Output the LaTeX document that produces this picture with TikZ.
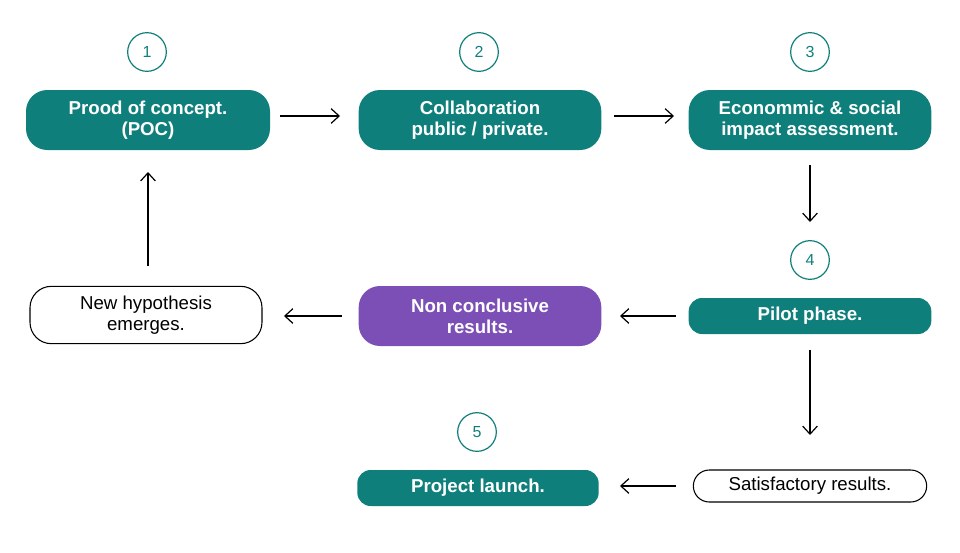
\documentclass[tikz,border=0pt]{standalone}
\usepackage{fontspec}
\setmainfont{Liberation Sans}
\usetikzlibrary{arrows.meta}
\definecolor{teal1}{HTML}{0F7F7B}
\definecolor{purp}{HTML}{7B4FB5}
\tikzset{
  stepbox/.style = {rounded corners=16pt, fill=teal1, text=white, font=\bfseries\fontsize{14}{16}\selectfont, align=center, inner sep=0pt},
  openbox/.style = {rounded corners=16pt, draw=black, line width=0.8pt, font=\fontsize{14}{16}\selectfont, align=center, inner sep=0pt},
  num/.style = {circle, draw=teal1, line width=0.9pt, text=teal1, minimum size=29pt, inner sep=0pt, font=\fontsize{12}{14}\selectfont},
  flow/.style = {-{Straight Barb[length=6pt,width=11pt]}, line width=0.9pt}
}
\begin{document}
\begin{tikzpicture}[x=0.75pt, y=-0.75pt]
  \useasboundingbox (0,0) rectangle (960,553);
  % numbered steps
  \node[num] (n1) at (147,52) {1};
  \node[num] (n2) at (479,52) {2};
  \node[num] (n3) at (810,52) {3};
  \node[num] (n4) at (810,260) {4};
  \node[num] (n5) at (477,432) {5};

  % boxes
  \node[stepbox, minimum width=183pt, minimum height=45pt] (poc) at (148,120) {Prood of concept.\\(POC)};
  \node[stepbox, minimum width=182pt, minimum height=45pt] (collab) at (480,120) {Collaboration\\public / private.};
  \node[stepbox, minimum width=182pt, minimum height=45pt] (econ) at (810,120) {Econommic \& social\\impact assessment.};
  \node[stepbox, minimum width=182pt, minimum height=27pt, rounded corners=10pt] (pilot) at (810,316) {Pilot phase.};
  \node[stepbox, fill=purp, minimum width=182pt, minimum height=45pt] (noncon) at (480,316) {Non conclusive\\results.};
  \node[openbox, font=\fontsize{14}{16}\selectfont, minimum width=174pt, minimum height=43pt] (hypo) at (146,315) {New hypothesis\\emerges.};
  \node[openbox, minimum width=175pt, minimum height=24pt, rounded corners=12pt] (satis) at (810,486) {Satisfactory results.};
  \node[stepbox, minimum width=181pt, minimum height=27pt, rounded corners=10pt] (launch) at (478,488) {Project launch.};

  % connectors
  \coordinate (a1) at (280,116); \coordinate (b1) at (340,116);
  \coordinate (a2) at (614,116); \coordinate (b2) at (674,116);
  \coordinate (a3) at (810,165); \coordinate (b3) at (810,222);
  \coordinate (a4) at (810,350); \coordinate (b4) at (810,435);
  \coordinate (a5) at (676,316); \coordinate (b5) at (620,316);
  \coordinate (a6) at (342,316); \coordinate (b6) at (284,316);
  \coordinate (a7) at (676,486); \coordinate (b7) at (620,486);
  \coordinate (a8) at (148,266); \coordinate (b8) at (148,172);
  \foreach \i in {1,...,8} \draw[flow] (a\i) -- (b\i);
\end{tikzpicture}
\end{document}
